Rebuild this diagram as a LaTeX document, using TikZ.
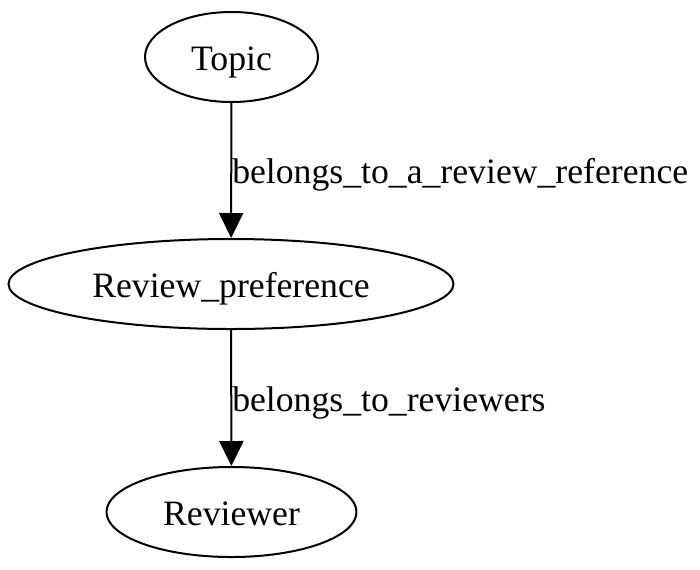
\documentclass[tikz,border=0pt]{standalone}
\usepackage{fontspec}
\setmainfont{Liberation Serif}
\usetikzlibrary{positioning, arrows.meta, shapes.geometric}
\tikzset{ent/.style={draw, ellipse, line width=1pt, inner sep=0pt, minimum height=45pt, text height=13.5pt, text depth=0.5pt, font=\fontsize{17.85}{20}\selectfont}}
\tikzset{arr/.style={draw, line width=1pt, -{Triangle[length=12.5pt, width=12pt]}}}
\tikzset{lbl/.style={right, inner sep=0pt, text height=13.5pt, text depth=0.5pt, font=\fontsize{17.85}{20}\selectfont}}

\begin{document}
\begin{tikzpicture}[x=0.5pt, y=-0.5pt]
	\useasboundingbox (0,0) rectangle (700,569);
	\node[ent, minimum width=86.5pt] (topic) at (231.5,57) {Topic};
	\node[ent, minimum width=222.5pt] (pref) at (231,284) {Review\_preference};
	\node[ent, minimum width=125pt] (reviewer) at (231.5,512) {Reviewer};
	%
	\draw[arr] (topic) --
		node[lbl] {belongs\_to\_a\_review\_reference}
		(pref);
	\draw[arr] (pref) --
		node[lbl] {belongs\_to\_reviewers}
		(reviewer);
\end{tikzpicture}
\end{document}
